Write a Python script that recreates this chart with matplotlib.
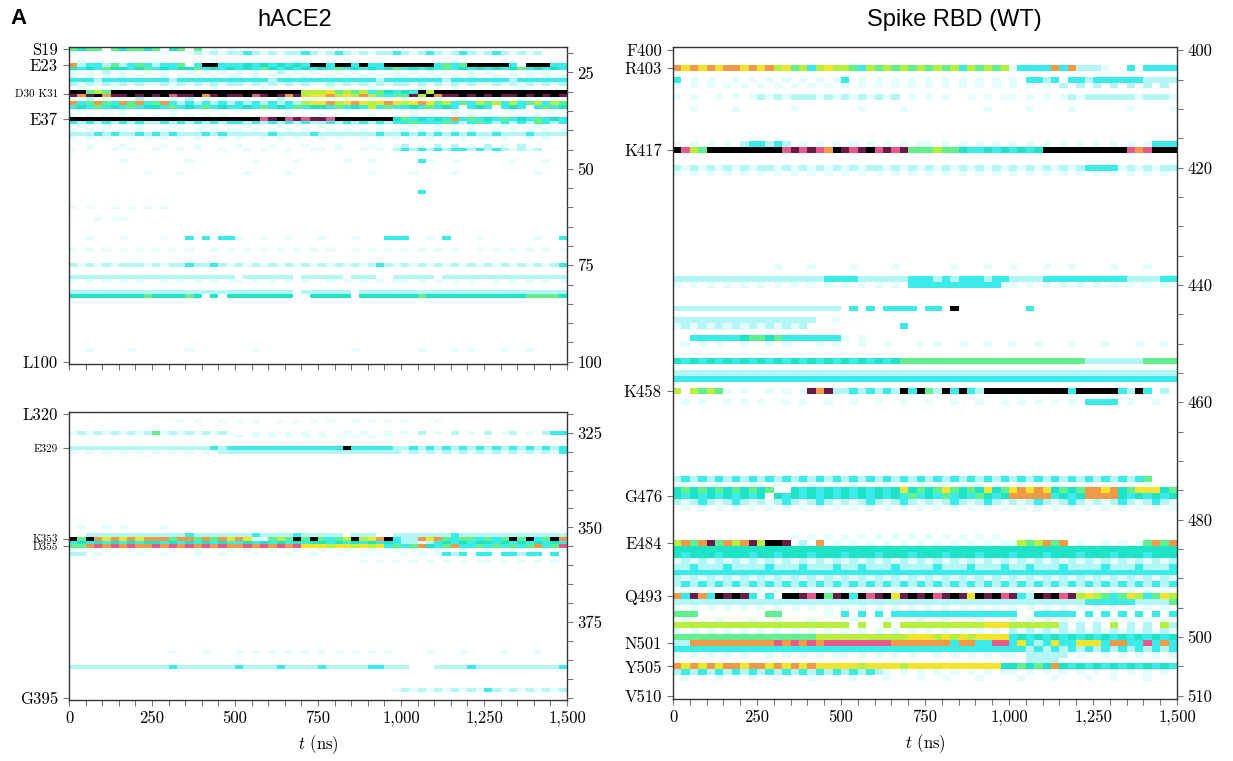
import numpy as np
import matplotlib
matplotlib.use("Agg")
import matplotlib.pyplot as plt
from matplotlib.colors import ListedColormap, BoundaryNorm

plt.rcParams['mathtext.fontset'] = 'cm'
plt.rcParams['axes.formatter.use_mathtext'] = True

SERIF = 'cmr10'
SANS = 'Liberation Sans'

# ---------------- colour levels ----------------
LEVEL_CODES = ".123456789ab"
LEVEL_COLORS = ["#ffffff", "#e4fdfd", "#b4f6f6", "#3aebe9", "#1fe3c6", "#62ef8e",
                "#b6ef3e", "#f1e42a", "#f09a48", "#e65a8a", "#6a1a46", "#000000"]

N_BINS = 60          # 25 ns per bin
T_END = 1500

time_ticks = [0, 250, 500, 750, 1000, 1250, 1500]
time_labels = ['0', '250', '500', '750', '1,000', '1,250', '1,500']

# ---------------- hACE2, residues 19-100 ----------------
ace_top_res = [19, 20, 22, 23, 24, 25, 26, 27, 28, 29, 30, 31, 32, 33, 34, 35, 36, 37, 38,
               39, 40, 41, 42, 44, 45, 48, 51, 56, 60, 63, 68, 71, 75, 78, 79, 82, 83, 97]
ace_top_pat = [
    "5455.54554 5.45.5.1.1 .......... .......... .......... ..........",  # 19
    "1......... .1..121212 2321212232 1232121223 2123212321 2321212...",  # 20
    ".1........ 1......1.. .......1.. ...1...... ......1... ..1.......",  # 22
    "8233252353 2335.3bb33 343434343b b3bb3b33bb bbbb3535bb bbb3.bbb33",  # 23
    "4343544345 3434453434 3435434343 4353434345 3434353434 3434534343",  # 24
    "1.1.2.1..1 .1..1.1.1. 1.1..2.1.1 ..1.1.1..1 .1.1.1..1. 1..1.1.1..",  # 25
    "1.1.1.1.1. .1.1.1.1.1 1.1.1.1.1. .1.1.1.1.1 1.1.1.1.1. .1.1.1.1.1",  # 26
    "3332333333 3323333333 3333233333 3333333233 3333323333 3332333333",  # 27
    "2121212121 1212121212 2121212121 1212121212 2121212121 1212121212",  # 28
    ".1...1.... ..1....1.. ...1...... .1....1... ..1...1... ....1.....",  # 29
    "bb565bbbbb bbbbbbbbbb bbbbbbbb66 6756563543 43b6bbbbbb bbbbbbbbbb",  # 30
    "a8ab8aabab ab9aab8aba ab9aba8a67 7867686535 5a6b8aabab abaabababa",  # 31
    "1.2.1.1.2. 1.1.2.1.1. .1.1.2.1.1 .1.1..1.1. 1.1.1..1.1 .1..1.1.1.",  # 32
    "8358538583 5832323232 3232323267 7867876787 6787563536 5636356365",  # 33
    "3435343534 4353435343 3435343534 4353436353 3435343.34 3.343.3534",  # 34
    ".1....1... ..1....... 1.....1... ...1...... .1....1... ...1......",  # 35
    "1.1.1.1.1. 1.1.1.1.1. ......1... 1.1...1... .1.1..1.1. 1...1.1...",  # 36
    "bbbbbbbbbb bbbbbbbbbb bbb9ab9a9a a9bbbbbbb4 5343438353 4353435343",  # 37
    "3232323232 2323232323 3232323232 2323232323 3533353235 3232325323",  # 38
    ".1..1...1. ..1...1... .1...1.... 1...1..1.. .1..1...1. ..1...1...",  # 39
    "1.1.1.1.1. .1.1.1.1.1 1.1.1.1.1. .1.1.1.1.1 1.1.1.1.1. .1.1.1.1.1",  # 40
    "2223232232 3232223232 2222322223 2222222322 3232323232 2322232222",  # 41
    "1.1.1..1.1 .1.1.1..1. 1..1.1.1.. 1.1..1.1.1 .1.1.1.1.1 1.1..1.1..",  # 42
    "..1...1... .1...1.... 1...1...1. ..1...1..1 2.1.2.2.1. 2.1.2.....",  # 44
    "1.1..1.1.. 1..1.1..1. .1.1..1..1 1.1..1.1.2 3232323323 2321212...",  # 45
    "......1... ....1..... ..1....1.. ...1..1... ..31..1... ...1...1..",  # 48
    ".........1 ...1...... .1....1... ......1... .1....1... ......1...",  # 51
    ".......... .......... .......... .......... ..3....... ..........",  # 56
    "1.1..1.1.1 .1........ .......... .......... .......... ..........",  # 60
    "...1.11... .......... .......... .......... .......... ..........",  # 63
    "..1...1... .1..3.3.33 1..1..1... 1...1...33 3..1.3...1 ......1..3",  # 68
    "1.1.1.1.1. 1.1.1..1.1 .1.1.1.1.1 .1..1.1.1. 1.1.1.1..1 .1.1.1.1.1",  # 71
    "2121212221 2122322321 2121212121 2121212321 2121212121 2121212123",  # 75
    "2222222222 2222222222 .222222.22 222.222..2 2222.22222 2222222222",  # 78
    "1.1.1.1.1. .1.1.1.1.1 1.1.1.1.1. .1.1.1.1.1 1.1.1.1.1. .1.1.1.1.1",  # 79
    "2222222222 2222222222 2222222.22 2222.22222 2222222222 2222222222",  # 82
    "4444444445 444454.4.4 4444444..4 4444.44444 4454444444 4444455554",  # 83
    "..1....1.. ....1..... ..1....... ....1..... ..1...1.1. ..1..1....",  # 97
]

# ---------------- hACE2, residues 320-395 ----------------
ace_bot_res = [322, 325, 326, 329, 330, 350, 352, 353, 354, 355, 356, 357, 359, 383, 387, 393]
ace_bot_pat = [
    ".......... ...1.1..1. 1.1..1.1.1 .1..1.1.1. 1...1..... ..........",  # 322
    "1212121212 5121212121 ..1.1.1.1. 1..1.1..1. 1.2.1.2.1. 2.12.1.233",  # 325
    ".......... .......... 1.1.1.1.1. 1.1.1.1.1. .......... ..........",  # 326
    "2222222222 2222222323 3333333333 333b333332 2323232323 2323232323",  # 329
    "1.1.1.1.1. 1.1.1.1.22 2222222222 2222222222 1212121212 1212121213",  # 330
    ".1..1.1... .1........ .......... .......... .......... ..........",  # 350
    "..22222222 2222322222 2232222322 222.222..2 2222223222 2222222222",  # 352
    "b5b8787878 8858858587 8711565b5b 5356b678b3 2287853553 535b5b35b8",  # 353
    "3434343434 4343434343 3434343434 4343434343 2212343434 4343434343",  # 354
    "5589898988 9898989898 8989898977 7677676735 3584358335 3535358359",  # 355
    "1.1.1..1.1 ..1..1...1 .1..1..1.. 1..1..1..1 .1..1..1.. 1..1..1..1",  # 356
    "22.1.1..1. .1...1..1. ..1...1..1 ..1..1.1.. 1.1.1323.3 3.33233.3.",  # 357
    ".......... .......... .......... .....1.1.1 .1.1.1.1.1 1.1.1.1.1.",  # 359
    ".......... ..1...1... 1.1.1.1.1. 1.1.1.1.1. ...1...1.. ..1...1...",  # 383
    "2222222222 2232222222 3222232222 3222223322 2...222232 2222222223",  # 387
    ".......... .......... .......... .........1 2121212121 3212121212",  # 393
]

# ---------------- Spike RBD (WT), residues 400-510 ----------------
rbd_res = [403, 405, 406, 408, 410, 416, 417, 420, 421, 437, 439, 440, 444, 446, 447, 449,
           450, 453, 455, 456, 458, 460, 473, 474, 475, 476, 477, 478, 483, 484, 485, 486,
           487, 488, 489, 490, 491, 492, 493, 494, 495, 496, 497, 498, 499, 500, 501, 502,
           503, 504, 505, 506, 507]
rbd_pat = [
    "8787878878 7867563676 6536565656 5656365656 1333383822 21..3.3333",  # 403
    "3.1.1..1.1 .1.1.1.1.1 3.1.1.1.1. 1.1.1.1.1. 1.3323.332 3333332222",  # 405
    "1.1.1.1.1. 1.1.1.1.1. 1.1.1.1.1. 1.1.1.1.1. 1.1.1.2.2. 2.2.2.2.2.",  # 406
    "1.1..1.1.1 2121222121 2121212.1. 1.1..1.1.1 1.1.1.1212 2222212221",  # 408
    "..1....1.. ....1..... ..1....1.. .......1.. ..1....1.. ....1....1",  # 410
    "1.1.1.1.23 3232.1.1.1 .1.1.1.1.1 1.1.1.1.1. 1.1.1.1.1. 1.1.1.1333",  # 416
    "b965bbbbbb bbb9a9a98b a9ab9a9a55 5655433434 3434bbbbbb bbbb989bbb",  # 417
    "2121212121 2212121212 1212212121 2121212121 2121212123 3331212122",  # 420
    "1.1.1.1.1. 1.1.1.1.1. 1.1.1.1.1. 1.1.1.1.1. 1.1.1.1.1. 1.1.1.1.1.",  # 421
    ".......... ..1...1... .1....1... ...1...1.. 1...1..1.. ..1...1...",  # 437
    "2222222222 2222222233 3322222233 3232333233 2222333333 3333222233",  # 439
    "1.1.1.1.1. 1.1.1.1.1. 1.1.1.1.33 3333333331 1.1.1.1.1. 1.1.1.1.1.",  # 440
    "2222222222 2222222222 .3.3.3333. 33.b...... ..3....... ..........",  # 444
    "2222222222 2222222..1 .......... .......... .......... ..........",  # 446
    "1212121212 121212.... .......3.. .......... .......... ..........",  # 447
    "..33333345 5453333333 1.1....... .......... .......... ..........",  # 449
    ".1.1.1..1. .1.1...1.1 ..1..1...1 .1..1..1.. 1..1...1.. .1...1..1.",  # 450
    "4343434343 4343434343 4343434555 5555555555 5555555552 2222225555",  # 453
    "2222222222 2222222222 2222222222 2222222222 2222222222 2222222222",  # 455
    "3333333333 3333333333 3333333333 3333333333 3333333333 3333333333",  # 456
    "6.65651.1. .1.1.1a8a2 2323232b3b 52b3b32bbb bbbbbbb3bb bbb32b3.2.",  # 458
    ".1.1..1.1. 1..1.1..1. .1..1..1.. 1..1..1..1 .1.1.1.1.3 333.1..1..",  # 460
    "2323232323 2323232323 2323232323 2323232323 2323232323 2323235...",  # 473
    ".1...1...1 ..1...1... .1...1...1 ..1...1... .1...1...1 ..1...1...",  # 474
    "4545454545 45..434343 4343434745 4575454745 7878745458 8784577745",  # 475
    "4343434343 4.43434343 4343434353 4353435434 8888834348 8884343434",  # 476
    "2123212321 2123212321 2123212321 2123212321 2123212321 2123212321",  # 477
    ".1.1.1.1.1 .1.1.1.1.1 .1.1.1.1.1 .1.1.1.1.1 .1.1.1.1.1 .1.1.1.1.1",  # 478
    ".......... ....1.1.1. 1.1.1.1.1. 1.1.1.1.1. .......... ..........",  # 483
    "6858a5868a 6bba.2.8.1 .1.1.1.1.1 .1.1.1.1.1 1656858.1. .1.1.15858",  # 484
    "4444444444 4444444444 4444444444 4444444444 4444444444 4444444444",  # 485
    "4344434443 4434443444 3444344434 4434443444 3444344434 4434443444",  # 486
    "1212121212 1212121212 1212121212 1212121212 1212121212 1212121212",  # 487
    "2232223222 2322232223 2232223222 2322232223 2232223222 2322232223",  # 488
    "3333333333 3333333333 3333333333 3333333333 3333333333 3333333333",  # 489
    "2121212121 2121212121 2121212121 2121212121 2121212121 2121212121",  # 490
    "2323232323 2323232323 2323232323 2323232323 2323232323 2323232323",  # 491
    "1.1.1.1.1. 1.1.1.1.1. 1.1.1.1.1. 1.1.1.1.1. 1.1.1.1.1. 1.1.1.1.1.",  # 492
    "83a83baba3 .3.bba9b5a b3b9ab7aba b9aba7bab9 a32bab9a67 6535763576",  # 493
    "2222222222 2222222222 2222222222 2222222222 2222222223 3333322225",  # 494
    "1.1.1.1.1. 1.1.1.1.1. 1.1.1.1.1. 1.1.1.1.1. 1.1.1.1.1. 1.1.1.1.1.",  # 495
    "555....... .55.....1. 3.3.3.3333 3333333333 3..33333.3 .3.3.3.3.3",  # 496
    ".1...1...1 ..1...1... .1...1...1 ..1...1... 1.1.1.1.1. 1.1.1.1.1.",  # 497
    "6666666666 6666666666 6.6..6.666 6666666777 6666662.2. 2.6.2.2.62",  # 498
    "1.1.1.1.1. 1.1.1.1.1. 1.1.1.1.1. 1.1.1.1.1. 2121212121 2121212121",  # 499
    "5555555555 5555555666 6666666677 7676767777 3434343434 3434343434",  # 500
    "2288888888 8898989899 9999998888 8883883399 3732373377 7388339383",  # 501
    "3333333333 3333333333 3333333333 3333333333 3323232323 2323232323",  # 502
    "1.1.1.1.1. .1.1.1.1.1 1.1.1.1.1. .1.1.1.1.1 1.22222.1. .1.1.1.1.1",  # 503
    ".......... .......... .......... .......... ..2222.... ..........",  # 504
    "8787878878 8787878777 7767777677 7777777774 4545484343 4343434343",  # 505
    "2323232323 2323232323 232321.1.1 .1.1.1.1.1 1.1.1.1.1. 1.1.1.1.1.",  # 506
    ".1...1...1 ..1...1... .1...1...1 ..1...1... .1...1...1 ..1...1...",  # 507
]

# ---------------- residue labels ----------------
ace_top_left_ticks = [19, 23, 30.5, 37, 100]
ace_top_left_labels = ['S19', 'E23', 'D30 K31', 'E37', 'L100']
ace_top_right_major = [25, 50, 75, 100]

ace_bot_left_ticks = [320, 329, 353, 355, 395]
ace_bot_left_labels = ['L320', 'E329', 'K353', 'D355', 'G395']
ace_bot_right_major = [325, 350, 375]

rbd_left_ticks = [400, 403, 417, 458, 476, 484, 493, 501, 505, 510]
rbd_left_labels = ['F400', 'R403', 'K417', 'K458', 'G476', 'E484', 'Q493', 'N501', 'Y505', 'V510']
rbd_right_major = [400, 420, 440, 460, 480, 500, 510]

small_labels = {'D30 K31', 'E329', 'K353', 'D355'}

cmap = ListedColormap(LEVEL_COLORS)
norm = BoundaryNorm(np.arange(-0.5, len(LEVEL_COLORS) + 0.5, 1.0), cmap.N)

W, H = 1233, 761
fig = plt.figure(figsize=(W / 100, H / 100), dpi=100)


def px_rect(x0, y0, x1, y1):
    return [x0 / W, 1 - y1 / H, (x1 - x0) / W, (y1 - y0) / H]


def build_matrix(lo, hi, residues, patterns):
    M = np.zeros((hi - lo + 1, N_BINS))
    for r, p in zip(residues, patterns):
        s = p.replace(" ", "")[:N_BINS]
        vals = [LEVEL_CODES.index(c) for c in s]
        M[r - lo, :len(vals)] = vals
    return M


def draw_panel(rect, lo, hi, ylim, residues, patterns, left_ticks, left_labels,
               right_major, right_minor, xlabels):
    ax = fig.add_axes(rect)
    M = build_matrix(lo, hi, residues, patterns)
    x_edges = np.linspace(0, T_END, N_BINS + 1)
    y_edges = lo - 0.5 + np.arange(hi - lo + 2)
    ax.pcolormesh(x_edges, y_edges, M, cmap=cmap, norm=norm, shading='flat',
                  edgecolors='none', antialiased=False)
    ax.set_xlim(0, T_END)
    ax.set_ylim(*ylim)
    for sp in ax.spines.values():
        sp.set_color('#333333')
        sp.set_linewidth(1.0)
    ax.set_yticks(left_ticks)
    ax.set_yticklabels(left_labels, fontfamily=SERIF, fontsize=12)
    for lbl in ax.get_yticklabels():
        if lbl.get_text() in small_labels:
            lbl.set_fontsize(8)
    ax.set_xticks(time_ticks)
    ax.set_xticks(np.arange(0, T_END + 1, 50), minor=True)
    if xlabels:
        ax.set_xticklabels(time_labels, fontfamily=SERIF, fontsize=12)
        ax.set_xlabel(r'$t$ (ns)', fontfamily=SERIF, fontsize=12, labelpad=5)
    else:
        ax.set_xticklabels([])
    ax.tick_params(axis='both', which='both', direction='out', color='#777777',
                   width=0.8, length=4.5, top=False, right=False)
    ax.tick_params(axis='y', which='minor', left=False)

    ax2 = ax.twinx()
    ax2.set_ylim(*ylim)
    ax2.set_yticks(right_major)
    ax2.set_yticklabels([str(v) for v in right_major], fontfamily=SERIF, fontsize=12)
    ax2.set_yticks(right_minor, minor=True)
    ax2.tick_params(axis='y', which='both', direction='out', color='#777777',
                    width=0.8, length=4.5, pad=3)
    for sp in ax2.spines.values():
        sp.set_visible(False)
    return ax


draw_panel(px_rect(69, 47.3, 567, 363.7), 19, 100, (100.5, 18.5),
           ace_top_res, ace_top_pat, ace_top_left_ticks, ace_top_left_labels,
           ace_top_right_major, list(range(20, 101, 5)), False)

draw_panel(px_rect(69, 412, 567, 699.5), 320, 395, (395.5, 319.5),
           ace_bot_res, ace_bot_pat, ace_bot_left_ticks, ace_bot_left_labels,
           ace_bot_right_major, list(range(320, 396, 5)), True)

draw_panel(px_rect(673, 47.3, 1177, 698.7), 400, 510, (510.5, 399.5),
           rbd_res, rbd_pat, rbd_left_ticks, rbd_left_labels,
           rbd_right_major, list(range(400, 511, 5)), True)

fig.text(295 / W, 1 - 20 / H, 'hACE2', ha='center', va='center', family=SANS, fontsize=17)
fig.text(954 / W, 1 - 20 / H, 'Spike RBD (WT)', ha='center', va='center', family=SANS, fontsize=17)
fig.text(10 / W, 1 - 18 / H, 'A', ha='left', va='center', family=SANS, fontsize=16, fontweight='bold')

fig.savefig('out.png', dpi=100)
